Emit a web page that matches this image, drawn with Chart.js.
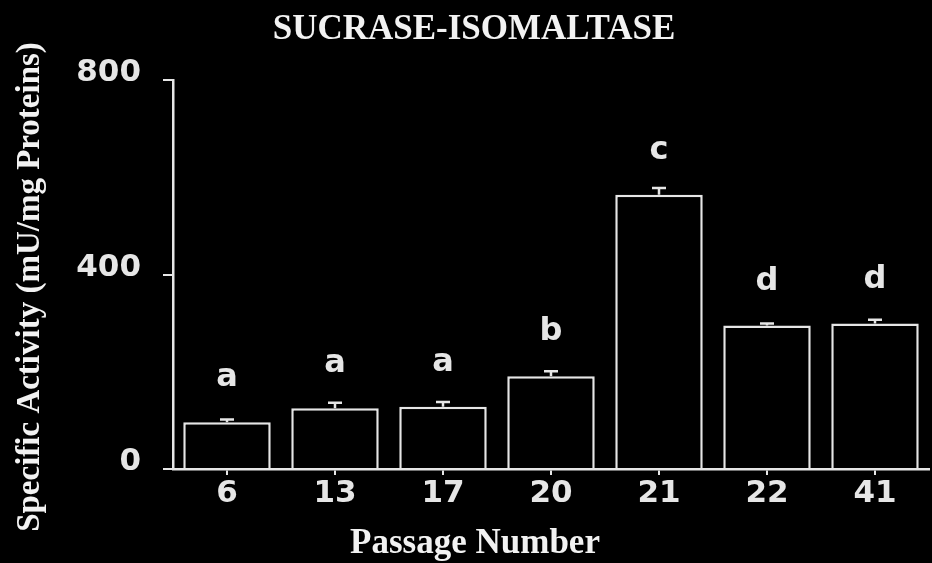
<!DOCTYPE html>
<html>
<head>
<meta charset="utf-8">
<script src="https://cdn.jsdelivr.net/npm/chart.js@4.4.1/dist/chart.umd.min.js"></script>
<style>
  html, body { margin: 0; padding: 0; background: #000; }
  #wrap { width: 932px; height: 563px; position: relative; }
</style>
</head>
<body>
<div id="wrap"><canvas id="c" width="932" height="563"></canvas></div>
<script>
// Sucrase-isomaltase specific activity by passage number
const passages = ['6', '13', '17', '20', '21', '22', '41'];
const activity = [96, 125, 128, 191, 564, 295, 299];
const sem = [6, 11, 10, 10, 14, 4, 8];
const groups = ['a', 'a', 'a', 'b', 'c', 'd', 'd'];
const yTicks = [0, 400, 800];

const fg = '#e6e6e6';
const axisFont = { family: 'DejaVu Sans', weight: 'bold', size: 31 };

// Error bars (upper half only) and significance letters above each bar
const annotate = {
  id: 'annotate',
  afterDatasetsDraw(chart) {
    const { ctx } = chart;
    const y = chart.scales.y;
    const meta = chart.getDatasetMeta(0);
    ctx.save();
    ctx.strokeStyle = fg;
    ctx.lineWidth = 2.5;
    meta.data.forEach((bar, i) => {
      const top = y.getPixelForValue(activity[i]);
      const hi = y.getPixelForValue(activity[i] + sem[i]);
      ctx.beginPath();
      ctx.moveTo(bar.x, top);
      ctx.lineTo(bar.x, hi);
      ctx.moveTo(bar.x - 7, hi);
      ctx.lineTo(bar.x + 7, hi);
      ctx.stroke();
      ctx.fillStyle = fg;
      ctx.font = 'bold 32px "DejaVu Sans"';
      ctx.textAlign = 'center';
      ctx.textBaseline = 'alphabetic';
      ctx.fillText(groups[i], bar.x, top - 36);
    });
    ctx.restore();
  }
};

// Chart title and axis titles in a bold serif face
const titles = {
  id: 'titles',
  afterDraw(chart) {
    const { ctx } = chart;
    ctx.save();
    ctx.fillStyle = '#f2f2f2';
    ctx.textAlign = 'center';
    ctx.textBaseline = 'middle';
    ctx.font = 'bold 35px "Liberation Serif"';
    ctx.fillText('SUCRASE-ISOMALTASE', 474, 30);
    ctx.font = 'bold 35px "Liberation Serif"';
    ctx.fillText('Passage Number', 475, 544);
    ctx.translate(30, 287);
    ctx.rotate(-Math.PI / 2);
    ctx.font = 'bold 33px "Liberation Serif"';
    ctx.fillText('Specific Activity (mU/mg Proteins)', 0, 0);
    ctx.restore();
  }
};

new Chart(document.getElementById('c'), {
  type: 'bar',
  data: {
    labels: passages,
    datasets: [{
      data: activity,
      backgroundColor: '#000',
      borderColor: fg,
      borderWidth: 2.5,
      borderSkipped: 'bottom',
      barPercentage: 0.9,
      categoryPercentage: 0.9
    }]
  },
  options: {
    responsive: false,
    animation: false,
    events: [],
    layout: { padding: { top: 80, right: 3, bottom: 0, left: 0 } },
    plugins: { legend: { display: false }, tooltip: { enabled: false }, title: { display: false } },
    scales: {
      x: {
        offset: true,
        border: { display: true, color: fg, width: 2.5 },
        grid: { display: true, offset: false, drawOnChartArea: false, drawTicks: true, tickLength: 6, color: fg, lineWidth: 2 },
        ticks: { color: fg, font: axisFont, padding: 0, maxRotation: 0 },
        afterFit(scale) { scale.height = 94; }
      },
      y: {
        min: 0,
        max: 800,
        afterBuildTicks(scale) { scale.ticks = yTicks.map(v => ({ value: v })); },
        border: { display: true, color: fg, width: 2.5 },
        grid: { display: true, drawOnChartArea: false, drawTicks: true, tickLength: 10, color: fg, lineWidth: 2 },
        ticks: { color: fg, font: axisFont, padding: 22, labelOffset: -7 },
        afterFit(scale) { scale.width = 173; }
      }
    }
  },
  plugins: [annotate, titles]
});
</script>
</body>
</html>
